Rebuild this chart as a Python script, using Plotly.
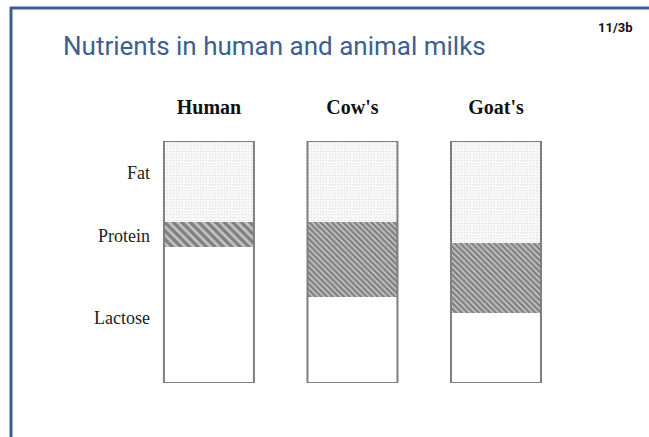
import plotly.graph_objects as go

# Share of each nutrient in the milk of each species (percent of bar height)
animals = ["Human", "Cow's", "Goat's"]
lactose = [56.2, 35.5, 28.9]
protein = [10.3, 31.0, 28.9]
fat = [33.5, 33.5, 42.2]
nutrient_labels = ["Fat", "Protein", "Lactose"]

W, H = 649, 437
FRAME = "#3d5f8f"
OUTLINE = "#7f7f7f"

def px(x):
    return x / W

def py(y):
    return 1 - y / H

totals = [a + b + c for a, b, c in zip(lactose, protein, fat)]
base_protein = lactose[:]
base_fat = [a + b for a, b in zip(lactose, protein)]
bar_w = 0.627

fig = go.Figure()

fig.add_trace(go.Bar(
    x=animals, y=lactose, base=[0, 0, 0], width=bar_w, name="Lactose",
    marker=dict(color="white", line=dict(width=0)),
))
fig.add_trace(go.Bar(
    x=animals, y=protein, base=base_protein, width=bar_w, name="Protein",
    marker=dict(
        color="#bcbcbc",
        line=dict(width=0),
        pattern=dict(shape="\\", size=[6, 4, 4], solidity=0.55,
                     fgcolor="#3a3a3a", bgcolor="#c4c4c4", fillmode="overlay"),
    ),
))
fig.add_trace(go.Bar(
    x=animals, y=fat, base=base_fat, width=bar_w, name="Fat",
    marker=dict(
        color="#f4f4f4",
        line=dict(width=0),
        pattern=dict(shape=".", size=3, solidity=0.25,
                     fgcolor="#d2d2d2", bgcolor="#f8f8f8", fillmode="overlay"),
    ),
))
# outline around each whole bar
fig.add_trace(go.Bar(
    x=animals, y=totals, base=[0, 0, 0], width=bar_w, name="outline",
    marker=dict(color="rgba(0,0,0,0)", line=dict(width=2, color=OUTLINE)),
))

label_pos = [87, 61, 27]

fig.update_layout(
    width=W, height=H,
    margin=dict(l=0, r=0, t=0, b=0),
    paper_bgcolor="white", plot_bgcolor="white",
    showlegend=False,
    barmode="overlay",
    xaxis=dict(
        domain=[px(160), 1],
        range=[-0.341, 3.066],
        side="top",
        showgrid=False, zeroline=False, showline=False, ticks="",
        ticklabelstandoff=22,
        tickfont=dict(family="Liberation Serif", size=20, color="#111"),
        tickprefix="<b>", ticksuffix="</b>",
    ),
    yaxis=dict(
        domain=[py(383), py(141)],
        range=[0, 100],
        showgrid=False, zeroline=False, showline=False, ticks="",
        tickvals=label_pos, ticktext=nutrient_labels,
        ticklabelstandoff=9,
        tickfont=dict(family="Liberation Serif", size=18, color="#222"),
    ),
    shapes=[
        dict(type="line", xref="paper", yref="paper",
             x0=px(10), x1=1.0, y0=py(8), y1=py(8),
             line=dict(color=FRAME, width=3)),
        dict(type="line", xref="paper", yref="paper",
             x0=px(11), x1=px(11), y0=py(7), y1=0,
             line=dict(color=FRAME, width=3)),
    ],
    annotations=[
        dict(text="Nutrients in human and animal milks", xref="paper", yref="paper",
             x=px(61), y=py(46), xanchor="left", yanchor="middle", showarrow=False,
             font=dict(family="Roboto", size=26, color=FRAME)),
        dict(text="<b>11/3b</b>", xref="paper", yref="paper",
             x=px(635), y=py(27), xanchor="right", yanchor="middle", showarrow=False,
             font=dict(family="Roboto", size=13, color="#111")),
    ],
)

fig.write_html("out.html")
